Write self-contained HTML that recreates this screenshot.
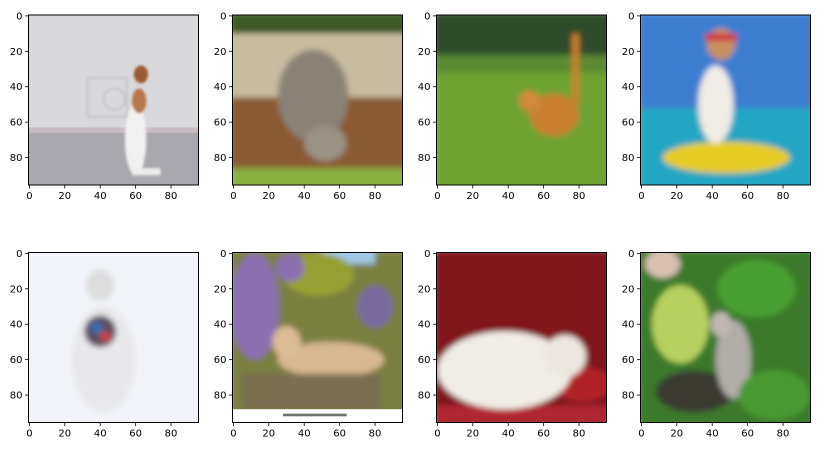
<!DOCTYPE html>
<html><head><meta charset="utf-8"><style>
html,body{margin:0;padding:0;background:#fff;}
svg{display:block;font-family:"DejaVu Sans","Liberation Sans",sans-serif;}
</style></head><body>
<svg id="fig" width="835" height="450" viewBox="0 0 835 450" xmlns="http://www.w3.org/2000/svg">
<defs>
<filter id="bl" x="-20%" y="-20%" width="140%" height="140%"><feGaussianBlur stdDeviation="1.6"/></filter>
<filter id="bl2"><feGaussianBlur stdDeviation="0.8"/></filter>
<clipPath id="cp"><rect x="-0.5" y="-0.5" width="96" height="96"/></clipPath>
</defs>

<!-- image 1: dog on wall -->
<svg id="img1" x="28.5" y="15" width="170" height="170" viewBox="-0.5 -0.5 96 96" preserveAspectRatio="none">
<g clip-path="url(#cp)">
<rect x="-1" y="-1" width="98" height="68" fill="#d9d8dc"/>
<rect x="-1" y="63" width="98" height="4" fill="#c8bcc2"/>
<rect x="-1" y="66" width="98" height="31" fill="#a9a8ae"/>
<g filter="url(#bl2)">
<rect x="33" y="35" width="22" height="22" fill="none" stroke="#c4c4c6" stroke-width="1"/>
<circle cx="48" cy="47" r="6" fill="none" stroke="#c4c4c6" stroke-width="1"/>
<ellipse cx="60" cy="70" rx="6" ry="20" fill="#f2f1f1"/>
<ellipse cx="62" cy="48" rx="4" ry="7" fill="#b8774a"/>
<ellipse cx="63" cy="33" rx="4" ry="5" fill="#9a5a35"/>
<rect x="58" y="86" width="16" height="4" fill="#ededed"/>
</g></g></svg>

<!-- image 2: cat on wood -->
<svg id="img2" x="232.5" y="15" width="170" height="170" viewBox="-0.5 -0.5 96 96" preserveAspectRatio="none">
<g clip-path="url(#cp)"><g filter="url(#bl)">
<rect x="-2" y="-2" width="100" height="100" fill="#9a8a70"/>
<rect x="-2" y="-2" width="100" height="14" fill="#3e5a22"/>
<rect x="-2" y="10" width="100" height="38" fill="#c8bca0"/>
<rect x="-2" y="46" width="100" height="40" fill="#8a5a32"/>
<rect x="-2" y="86" width="100" height="12" fill="#8ab040"/>
<ellipse cx="45" cy="45" rx="20" ry="26" fill="#8a8276"/>
<ellipse cx="52" cy="72" rx="12" ry="10" fill="#9a9284"/>
</g></g></svg>

<!-- image 3: cat in grass -->
<svg id="img3" x="436.5" y="15" width="170" height="170" viewBox="-0.5 -0.5 96 96" preserveAspectRatio="none">
<g clip-path="url(#cp)"><g filter="url(#bl)">
<rect x="-2" y="-2" width="100" height="100" fill="#6ea232"/>
<rect x="-2" y="-2" width="100" height="28" fill="#2f4c2a"/>
<rect x="-2" y="22" width="100" height="10" fill="#5a8a30"/>
<ellipse cx="66" cy="56" rx="14" ry="12" fill="#c8802e"/>
<ellipse cx="52" cy="48" rx="6" ry="6" fill="#d08a38"/>
<rect x="76" y="10" width="4" height="40" fill="#c8802e"/>
</g></g></svg>

<!-- image 4: dog on board -->
<svg id="img4" x="640.5" y="15" width="170" height="170" viewBox="-0.5 -0.5 96 96" preserveAspectRatio="none">
<g clip-path="url(#cp)"><g filter="url(#bl)">
<rect x="-2" y="-2" width="100" height="56" fill="#3c7ed0"/>
<rect x="-2" y="52" width="100" height="46" fill="#22a6c4"/>
<ellipse cx="48" cy="80" rx="36" ry="9" fill="#e6cc20"/>
<ellipse cx="42" cy="50" rx="10" ry="22" fill="#f0ece6"/>
<ellipse cx="45" cy="16" rx="8" ry="9" fill="#c89060"/>
<rect x="36" y="10" width="18" height="4" fill="#d03040"/>
</g></g></svg>

<!-- image 5: white dog -->
<svg id="img5" x="28.5" y="252.5" width="170" height="170" viewBox="-0.5 -0.5 96 96" preserveAspectRatio="none">
<g clip-path="url(#cp)"><g filter="url(#bl)">
<rect x="-2" y="-2" width="100" height="100" fill="#f3f4f9"/>
<ellipse cx="42" cy="60" rx="18" ry="30" fill="#e8e8ea"/>
<ellipse cx="40" cy="18" rx="8" ry="9" fill="#ddd"/>
<ellipse cx="40" cy="44" rx="9" ry="9" fill="#5a5060"/>
<circle cx="38" cy="42" r="3" fill="#3070c0"/>
<circle cx="43" cy="47" r="3" fill="#d04040"/>
</g></g></svg>

<!-- image 6: cat under wisteria -->
<svg id="img6" x="232.5" y="252.5" width="170" height="170" viewBox="-0.5 -0.5 96 96" preserveAspectRatio="none">
<g clip-path="url(#cp)">
<g filter="url(#bl)">
<rect x="-2" y="-2" width="100" height="100" fill="#7a8040"/>
<rect x="50" y="-2" width="30" height="8" fill="#a0c8e8"/>
<ellipse cx="12" cy="30" rx="14" ry="30" fill="#8a70b0"/>
<ellipse cx="48" cy="12" rx="20" ry="12" fill="#96a030"/>
<ellipse cx="32" cy="8" rx="8" ry="8" fill="#8a70b0"/>
<ellipse cx="80" cy="30" rx="10" ry="12" fill="#7a6aa0"/>
<ellipse cx="55" cy="60" rx="30" ry="10" fill="#d8b890"/>
<ellipse cx="30" cy="50" rx="8" ry="9" fill="#dcbc94"/>
<rect x="5" y="68" width="78" height="20" fill="#7a7050"/>
</g>
<rect x="-1" y="88" width="98" height="9" fill="#ffffff"/>
<rect x="28" y="90.5" width="36" height="1.5" fill="#707070"/>
</g></svg>

<!-- image 7: dog on red -->
<svg id="img7" x="436.5" y="252.5" width="170" height="170" viewBox="-0.5 -0.5 96 96" preserveAspectRatio="none">
<g clip-path="url(#cp)"><g filter="url(#bl)">
<rect x="-2" y="-2" width="100" height="100" fill="#80141c"/>
<rect x="-2" y="86" width="100" height="12" fill="#b02830"/>
<ellipse cx="82" cy="74" rx="16" ry="10" fill="#b02028"/>
<ellipse cx="38" cy="66" rx="38" ry="22" fill="#f0ece6"/>
<ellipse cx="72" cy="58" rx="12" ry="12" fill="#ece6e0"/>
</g></g></svg>

<!-- image 8: cat in foliage -->
<svg id="img8" x="640.5" y="252.5" width="170" height="170" viewBox="-0.5 -0.5 96 96" preserveAspectRatio="none">
<g clip-path="url(#cp)"><g filter="url(#bl)">
<rect x="-2" y="-2" width="100" height="100" fill="#3a7a2a"/>
<ellipse cx="22" cy="40" rx="16" ry="22" fill="#b8d060"/>
<ellipse cx="12" cy="6" rx="10" ry="8" fill="#d8c0b0"/>
<ellipse cx="65" cy="20" rx="22" ry="16" fill="#4aa030"/>
<ellipse cx="30" cy="78" rx="22" ry="12" fill="#3a3a30"/>
<ellipse cx="52" cy="60" rx="10" ry="22" fill="#b0aca8"/>
<ellipse cx="45" cy="40" rx="6" ry="7" fill="#c0b8b0"/>
<ellipse cx="75" cy="80" rx="20" ry="14" fill="#4a9a30"/>
</g></g></svg>

<g id="axes"></g>
</svg>
<script>
const panelX = [28.5, 232.5, 436.5, 640.5];
const panelY = [15, 252.5];
const tickValues = [0, 20, 40, 60, 80];
const tickLabels = ["0", "20", "40", "60", "80"];
const imgExtent = [-0.5, 95.5];
const size = 170;
const NS = "http://www.w3.org/2000/svg";
const axesG = document.getElementById("axes");
function mk(tag, attrs){const e=document.createElementNS(NS,tag);for(const k in attrs)e.setAttribute(k,attrs[k]);return e;}
function sc(v, origin){return origin + (v - imgExtent[0]) / (imgExtent[1]-imgExtent[0]) * size;}
let n = 0;
panelY.forEach((py, r) => {
  panelX.forEach((px, c) => {
    n++;
    const g = mk("g", {});
    
    
    const fr = mk("rect", {x: px, y: py, width: size, height: size, fill: "none", stroke: "#000", "stroke-width": 1});
    
    
    g.appendChild(fr);
    tickValues.forEach((v, i) => {
      const xx = sc(v, px);
      const t1 = mk("line", {x1: xx, x2: xx, y1: py+size, y2: py+size+3.5, stroke: "#000", "stroke-width": 0.8});
      
      
      g.appendChild(t1);
      const l1 = mk("text", {x: xx, y: py+size+14, "font-size": 10, "text-anchor": "middle", fill: "#000"});
      l1.textContent = tickLabels[i];
      
      
      g.appendChild(l1);
      const yy = sc(v, py);
      const t2 = mk("line", {x1: px-3.5, x2: px, y1: yy, y2: yy, stroke: "#000", "stroke-width": 0.8});
      
      
      g.appendChild(t2);
      const l2 = mk("text", {x: px-6, y: yy+3.5, "font-size": 10, "text-anchor": "end", fill: "#000"});
      l2.textContent = tickLabels[i];
      
      
      g.appendChild(l2);
    });
    axesG.appendChild(g);
  });
});
</script>
</body></html>
